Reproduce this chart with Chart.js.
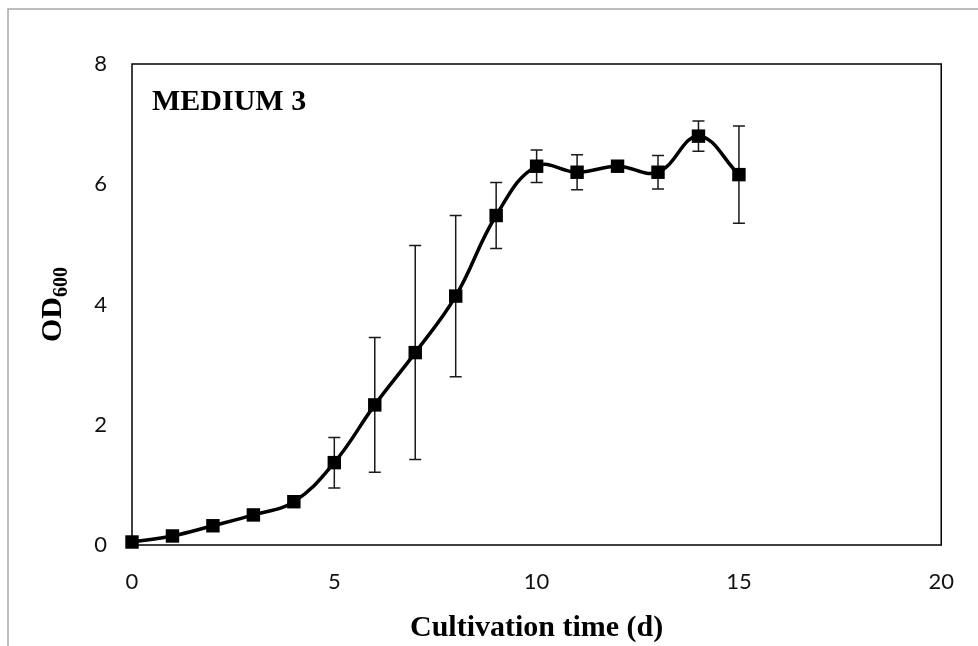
<!DOCTYPE html>
<html>
<head>
<meta charset="utf-8">
<script src="https://cdn.jsdelivr.net/npm/chart.js@4"></script>
<style>
  html, body { margin: 0; padding: 0; background: #fff; }
  #wrap { width: 978px; height: 646px; position: relative; }
</style>
</head>
<body>
<div id="wrap"><canvas id="odChart"></canvas></div>
<script>
// cultivation day, mean OD600 and standard deviation
const days = [0, 1, 2, 3, 4, 5, 6, 7, 8, 9, 10, 11, 12, 13, 14, 15];
const od600 = [0.05, 0.15, 0.32, 0.5, 0.72, 1.37, 2.33, 3.2, 4.14, 5.48, 6.3, 6.2, 6.3, 6.2, 6.8, 6.16];
const odSd = [0, 0, 0, 0, 0, 0.42, 1.12, 1.78, 1.34, 0.55, 0.27, 0.29, 0, 0.28, 0.25, 0.81];

const xTicks = [0, 5, 10, 15, 20];
const yTicks = [0, 2, 4, 6, 8];

const serif = '"Liberation Serif", "Times New Roman", serif';

// error bars drawn under the markers
const errorBars = {
  id: 'errorBars',
  beforeDatasetsDraw(chart) {
    const { ctx, scales } = chart;
    ctx.save();
    ctx.strokeStyle = '#1a1a1a';
    ctx.lineWidth = 1.5;
    days.forEach((d, i) => {
      if (!odSd[i]) return;
      const x = scales.x.getPixelForValue(d);
      const top = scales.y.getPixelForValue(od600[i] + odSd[i]);
      const bot = scales.y.getPixelForValue(od600[i] - odSd[i]);
      ctx.beginPath();
      ctx.moveTo(x, top); ctx.lineTo(x, bot);
      ctx.moveTo(x - 6, top); ctx.lineTo(x + 6, top);
      ctx.moveTo(x - 6, bot); ctx.lineTo(x + 6, bot);
      ctx.stroke();
    });
    ctx.restore();
  }
};

// plot frame, page frame and the text labels
const decorations = {
  id: 'decorations',
  afterDraw(chart) {
    const { ctx, chartArea: a } = chart;
    ctx.save();

    ctx.strokeStyle = '#a8a8a8';
    ctx.lineWidth = 1.5;
    ctx.beginPath();
    ctx.moveTo(8, 646); ctx.lineTo(8, 9); ctx.lineTo(978, 9);
    ctx.stroke();

    ctx.strokeStyle = '#000';
    ctx.lineWidth = 1.5;
    ctx.strokeRect(a.left, a.top, a.right - a.left, a.bottom - a.top);

    ctx.fillStyle = '#000';
    ctx.font = 'bold 30px ' + serif;
    ctx.textAlign = 'left';
    ctx.textBaseline = 'middle';
    ctx.fillText('MEDIUM 3', a.left + 20, 102);

    ctx.textAlign = 'center';
    ctx.fillText('Cultivation time (d)', (a.left + a.right) / 2, 628);

    // rotated y title with subscript
    ctx.translate(50, (a.top + a.bottom) / 2);
    ctx.rotate(-Math.PI / 2);
    ctx.textAlign = 'left';
    ctx.textBaseline = 'alphabetic';
    ctx.font = 'bold 30px ' + serif;
    const wOd = ctx.measureText('OD').width;
    ctx.font = 'bold 20px ' + serif;
    const wSub = ctx.measureText('600').width;
    const start = -(wOd + wSub) / 2;
    ctx.font = 'bold 30px ' + serif;
    ctx.fillText('OD', start, 11);
    ctx.font = 'bold 20px ' + serif;
    ctx.fillText('600', start + wOd, 17);

    ctx.restore();
  }
};

new Chart(document.getElementById('odChart'), {
  type: 'line',
  data: {
    datasets: [{
      data: days.map((d, i) => ({ x: d, y: od600[i] })),
      borderColor: '#000',
      borderWidth: 3.5,
      tension: 0.4,
      clip: false,
      pointStyle: 'rect',
      pointRadius: 9.5,
      pointHoverRadius: 9.5,
      pointBackgroundColor: '#000',
      pointBorderColor: '#000',
      pointBorderWidth: 0
    }]
  },
  options: {
    responsive: true,
    maintainAspectRatio: false,
    animation: false,
    events: [],
    layout: { padding: { top: 64, right: 36, left: 0, bottom: 0 } },
    plugins: {
      legend: { display: false },
      tooltip: { enabled: false }
    },
    scales: {
      x: {
        type: 'linear',
        min: 0,
        max: 20,
        afterBuildTicks(scale) { scale.ticks = xTicks.map(v => ({ value: v })); },
        afterFit(scale) { scale.height = 101; },
        grid: { display: false, drawTicks: false },
        border: { display: false },
        ticks: {
          padding: 24,
          color: '#111',
          font: { family: 'Lato', size: 22 }
        }
      },
      y: {
        min: 0,
        max: 8,
        afterBuildTicks(scale) { scale.ticks = yTicks.map(v => ({ value: v })); },
        afterFit(scale) { scale.width = 132; },
        grid: { display: false, drawTicks: false },
        border: { display: false },
        ticks: {
          padding: 25,
          color: '#111',
          font: { family: 'Lato', size: 22 }
        }
      }
    }
  },
  plugins: [errorBars, decorations]
});
</script>
</body>
</html>
